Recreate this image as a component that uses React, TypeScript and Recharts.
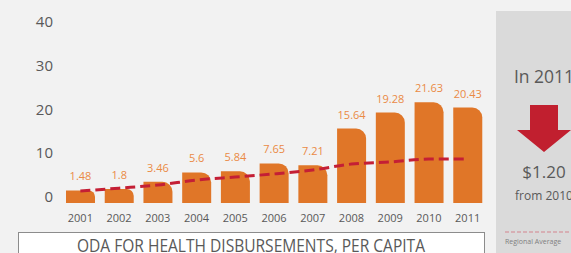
import React from "react";
import {
  ComposedChart,
  Bar,
  Line,
  XAxis,
  YAxis,
  LabelList,
} from "recharts";

// values
const years = ["2001", "2002", "2003", "2004", "2005", "2006", "2007", "2008", "2009", "2010", "2011"];
const odaPerCapita = [1.48, 1.8, 3.46, 5.6, 5.84, 7.65, 7.21, 15.64, 19.28, 21.63, 20.43];
const regionalAverage = [1.35, 2.0, 2.7, 3.85, 4.55, 5.25, 6.15, 7.5, 8.0, 8.65, 8.65];
const yTicks = [0, 10, 20, 30, 40];

// bars sit a little below the zero tick in the original artwork
const BAR_BASE = -1.4;

const data = years.map((year, i) => ({
  year,
  value: odaPerCapita[i],
  avg: regionalAverage[i],
}));

const FONT = "'Open Sans', sans-serif";
const GREY_TEXT = "#595959";

export default function App() {
  return (
    <div
      style={{
        position: "fixed",
        left: 0,
        top: 0,
        width: 571,
        height: 253,
        background: "#f2f2f2",
        fontFamily: FONT,
        overflow: "hidden",
      }}
    >
      {/* side panel + title box */}
      <svg width={571} height={253} style={{ position: "absolute", left: 0, top: 0 }}>
        <rect x={496} y={11} width={90} height={250} fill="#dadada" />
        <text x={544} y={83} textAnchor="middle" fontSize={17.5} fill={GREY_TEXT} fontFamily={FONT}>
          In 2011
        </text>
        <polygon
          points="530,105 558,105 558,130 571,130 544,152 517,130 530,130"
          fill="#c11f2f"
        />
        <text x={544} y={178} textAnchor="middle" fontSize={17} fill={GREY_TEXT} fontFamily={FONT}>
          $1.20
        </text>
        <text x={544} y={200} textAnchor="middle" fontSize={12} fill={GREY_TEXT} fontFamily={FONT}>
          from 2010
        </text>
        <line x1={505} y1={232} x2={571} y2={232} stroke="#d4848e" strokeWidth={1} strokeDasharray="4 2" />
        <text x={505} y={244} fontSize={7} fill="#7f7f7f" fontFamily={FONT}>
          Regional Average
        </text>
        <rect x={18.5} y={232.5} width={466} height={30} fill="#ffffff" stroke="#8c8c8c" strokeWidth={1} />
        <text
          x={251}
          y={252}
          textAnchor="middle"
          fontSize={18}
          fill={GREY_TEXT}
          fontFamily={FONT}
          textLength={348}
          lengthAdjust="spacingAndGlyphs"
        >
          ODA FOR HEALTH DISBURSEMENTS, PER CAPITA
        </text>
      </svg>

      <div style={{ position: "absolute", left: 0, top: 0 }}>
        <ComposedChart
          width={571}
          height={253}
          data={data}
          margin={{ top: 22, right: 84, left: 0, bottom: 30 }}
        >
          <XAxis
            dataKey="year"
            axisLine={false}
            tickLine={false}
            interval={0}
            height={20}
            tickMargin={5}
            tick={{ fontSize: 11, fill: GREY_TEXT, fontFamily: FONT }}
          />
          <YAxis
            width={61}
            domain={[BAR_BASE, 40]}
            ticks={yTicks}
            allowDataOverflow
            axisLine={false}
            tickLine={false}
            tick={{ fontSize: 15, fill: GREY_TEXT, fontFamily: FONT }}
          />
          <Bar
            dataKey={(d: any) => [BAR_BASE, d.value]}
            fill="#e07628"
            barSize={29}
            radius={[0, 10, 0, 0]}
            isAnimationActive={false}
          >
            <LabelList
              dataKey="value"
              position="top"
              offset={10}
              fill="#ea8a45"
              fontSize={11}
              fontFamily={FONT}
            />
          </Bar>
          <Line
            type="monotone"
            dataKey="avg"
            stroke="#c41f35"
            strokeWidth={3}
            strokeDasharray="10 5"
            dot={false}
            isAnimationActive={false}
          />
        </ComposedChart>
      </div>
    </div>
  );
}
